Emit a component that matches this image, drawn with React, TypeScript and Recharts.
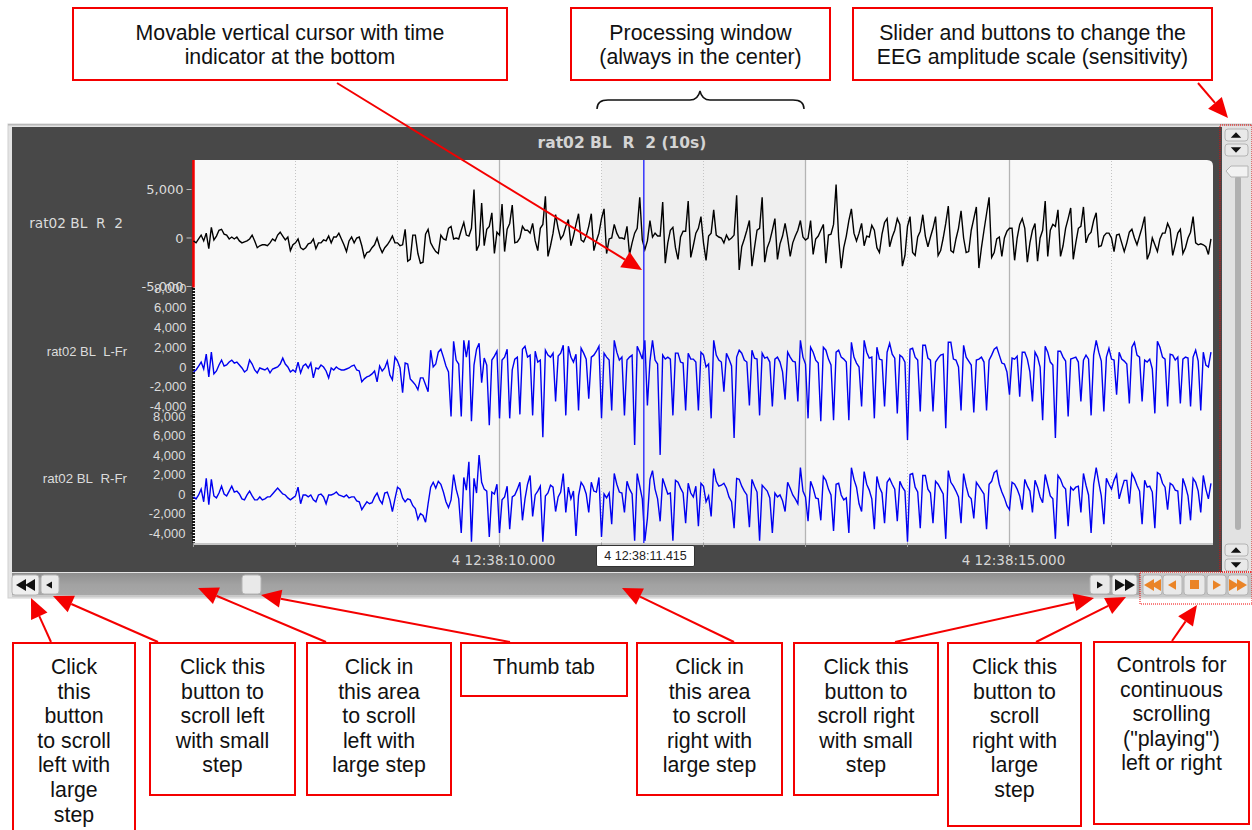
import React from 'react';
import { ComposedChart, Line, XAxis, YAxis, ReferenceArea, ReferenceLine } from 'recharts';

// one sample every 25 ms, starting at second 7 of the minute shown
const START_SECOND = 7;
const SAMPLE_STEP = 0.025;

const topTrace = [
  -300,-500,-100,300,-300,500,-1100,1100,-200,200,800,900,400,300,-100,100,-100,100,-300,-500,
  -400,-300,-100,300,-300,-1000,-800,-700,-700,-800,-500,-100,-300,300,600,200,-200,100,-1300,-700,
  -500,-100,-1000,-1200,-1000,-600,-500,-100,-1100,-500,-500,-200,-300,200,-500,100,100,500,-100,-700,
  -1400,-300,100,-500,0,100,-800,-2000,-1500,-1400,-1000,-700,0,-900,-1500,-1000,-700,-300,200,-500,
  -500,-800,-700,900,-2400,-2200,300,300,-1600,-2600,-2500,400,900,-500,-1000,-1400,-1600,300,-100,-200,
  1000,1200,-100,0,-100,800,1600,300,200,1000,5000,-1300,-700,3600,-800,900,1200,2600,-1600,600,
  300,3500,-1400,900,1500,3400,-500,-400,0,1200,800,800,500,1500,-300,-1300,1000,1400,4300,-1900,
  -800,500,2400,1000,-100,300,1200,1900,-800,200,1400,2500,-200,-400,200,1200,2500,-1300,-300,500,
  2000,3000,-1600,-100,0,1400,500,0,0,-100,1200,-1700,-500,500,1000,4200,-200,-1200,-300,1800,
  100,500,200,200,3700,-2600,-500,800,1100,-1000,-2200,100,700,700,3800,-2000,-800,500,1000,2200,
  -500,-2300,200,500,2900,300,100,0,-500,300,-200,0,300,4400,-3300,-900,-100,800,1800,-2900,
  -1000,800,1000,4200,-2500,-1000,-300,800,2000,-2200,-600,200,1500,0,-1900,-500,200,800,1800,100,
  -200,0,1800,-1700,-100,200,800,1400,-2600,300,400,1400,5500,0,-3100,-1000,200,1800,3000,500,
  -300,500,1500,-800,200,100,1300,800,-1000,-1500,400,1600,2000,-900,100,800,2000,1400,-2900,-1800,
  1200,2200,-1500,-1800,100,700,2400,200,-900,100,1000,2200,-1800,-1300,0,1500,3300,-1300,-1500,-100,
  1000,2800,0,-1500,-1400,800,2000,3200,-3100,-1000,800,2500,4200,-2000,-1500,-100,100,-1900,0,700,
  1000,1000,-2300,0,1400,2000,1000,-2500,-500,800,1500,-2400,0,800,3800,-1900,800,1400,1200,2900,
  -1900,-800,1000,2000,3100,-2200,-500,1000,1200,3200,-500,300,600,1800,2600,-900,-800,200,500,500,
  0,-1400,300,400,-500,-1400,-500,600,900,0,-700,200,1100,2200,-2200,-1500,0,-700,-1400,-100,
  500,500,1500,900,-1800,-700,500,900,-1600,-1000,0,600,2200,-500,-700,-600,-700,-900,-1700,-100,
];

const leftFrontalTrace = [
  -500,-300,100,500,-200,1300,-1000,1500,-700,-400,200,700,100,200,500,700,400,500,200,-100,
  -500,-300,700,300,-300,-600,-100,-200,-300,-100,-600,-200,-100,0,300,900,300,0,-500,-300,
  -500,500,-600,100,300,-100,400,-1100,-100,-200,200,0,-400,-1100,-100,-300,0,-200,-300,-300,
  -200,-100,100,200,-300,-400,-1500,-1200,-1000,-900,-700,-400,-1500,100,-400,-100,600,-800,-1300,1000,
  600,-100,-2600,400,300,-1200,-1500,-1800,-2300,-1100,-1100,-1800,-2500,1700,0,300,1500,1800,1000,100,
  -500,-5000,2600,700,300,-5000,2700,1000,2700,-5500,200,1800,2400,-1600,900,200,-5900,700,1100,1600,
  -5200,700,1000,1800,-5200,-300,800,1000,-4800,1800,2100,1000,1200,-4900,1600,500,700,-7100,1700,1200,
  1000,1400,-3500,1100,1400,2200,-4900,2100,1000,500,1300,-4400,1900,1400,800,-3200,1000,1200,1600,2100,
  -5200,1400,1000,700,-4400,2700,1500,700,1000,-4900,700,1000,1200,-7900,2100,1500,800,2700,-3900,600,
  2700,700,300,-8900,1200,800,1000,800,-4900,1400,1400,500,400,-4400,1400,800,800,500,-4400,1500,
  1200,0,300,-5200,2700,1200,700,500,-2500,1400,800,100,-7200,1000,1700,1400,700,500,-3900,1700,
  900,800,-4900,1400,900,1000,500,-4000,800,1000,500,-500,-3300,1500,1000,600,500,-3500,2700,1000,
  300,-5200,2000,1500,700,400,-5500,2000,1700,800,200,-5400,1500,1700,1000,800,500,-5400,2500,1000,
  400,0,-4000,2700,1500,900,1000,-5200,2000,800,700,-4000,1500,2400,1300,900,-4700,1200,1000,500,
  -7400,1800,1900,1000,700,-4500,2200,2200,900,700,-4500,500,900,1200,1300,-6200,2500,2500,800,700,
  0,-4400,2200,1000,600,200,-4600,700,800,1000,500,-4400,700,1200,1800,2000,1200,400,300,-500,
  -2800,900,800,1100,-3000,1500,1500,800,-500,-3500,1500,1000,0,-5400,2100,1500,500,200,-7200,1600,
  1600,1000,600,-5000,800,900,1000,500,-3500,700,1200,800,-4900,1200,2700,1500,600,-4500,1000,1900,
  800,700,-2800,1500,800,600,300,-3700,2000,2500,1200,1000,-3500,700,500,800,-200,-4700,2600,2000,
  1000,800,-4000,1300,1200,700,1000,-3700,800,1000,900,-4000,1000,1700,600,-4400,1500,200,0,1500,
];

const rightFrontalTrace = [
  -300,-500,-100,500,-800,1600,-1100,1500,-200,-400,100,800,0,-200,300,800,200,300,0,-500,
  -600,-100,300,-200,-600,-600,-300,-600,-500,-300,-300,0,300,600,300,0,-100,-400,-600,-400,
  -200,700,-1000,-100,-100,-300,-100,-600,-800,-100,0,-300,-1000,-100,-100,0,200,-100,-200,-300,
  -100,-400,-300,-300,-700,-800,-1600,-1200,-800,-1000,-900,-300,100,-600,-1000,100,200,-600,-1800,-500,
  700,500,-400,-800,-500,-600,-1200,-1500,-2600,-2000,-2200,-2900,-1000,700,1200,600,1300,1000,200,-800,
  -1400,-600,2000,500,-500,-4000,1700,400,3300,-4900,1600,100,4000,1200,500,300,-4400,200,0,1000,
  -4000,-600,-300,800,-3600,-300,-100,500,1200,-2700,-500,1000,1900,-2300,-100,300,800,-4900,-200,100,
  900,700,-1800,-300,200,2100,-1900,700,-500,300,-4300,-200,1200,800,0,-1900,1200,300,200,1700,
  -4400,0,-400,100,-3100,2100,1000,200,100,-1900,1300,500,0,-4800,2100,800,-500,-4800,-2500,1500,
  2400,500,-500,-2800,1600,800,0,100,-4800,1400,1200,600,100,-3000,1100,100,-300,800,-3300,1100,
  800,-800,-200,-2300,2600,1300,800,900,1100,600,-300,-800,-3500,1600,1500,800,300,-100,-3400,1500,
  800,200,-4800,900,600,300,-400,-4000,100,-300,-100,-700,-1800,1200,600,-100,-500,-1000,2700,300,
  -300,-2800,1300,600,-400,-500,-2700,1800,1400,500,-100,-3800,1000,1100,-100,-600,-400,-4000,2700,1500,
  700,-1000,-1800,2300,1000,400,-500,-3600,1800,700,100,-3000,1200,1600,1000,500,-2800,1300,700,300,
  -4900,2000,2100,700,200,-3500,1900,1900,500,100,-3000,1300,1000,500,0,-4600,2400,1200,800,300,
  -300,-3000,2100,800,-200,-500,-2500,1200,800,400,0,-3600,1000,1300,2200,2400,1000,200,-400,-1200,
  -1600,1200,1000,500,-200,-1600,1500,800,300,-1900,1400,700,-300,-900,2000,900,-200,-500,-4600,1900,
  1500,800,500,-3300,700,400,700,800,-1900,2100,900,-100,-4000,1000,2700,1200,-200,-3100,1600,1000,
  500,1400,2000,-500,500,1400,1400,-1000,2100,1600,900,300,-3100,1400,700,800,200,-3500,2200,2000,
  1100,700,-1600,1100,900,400,300,-3100,1600,800,-200,-2700,1600,1200,300,-1900,1900,500,-500,1100,
];

const topTicks = [-5000, 0, 5000];
const frontalTicks = [-4000, -2000, 0, 2000, 4000, 6000, 8000];
const secondTicks = [7, 8, 9, 10, 11, 12, 13, 14, 15, 16];
const dottedSeconds = [8, 9, 11, 12, 14, 16];
const solidSeconds = [10, 13, 15];
const labelledSeconds: Record<number, string> = { 10: '4 12:38:10.000', 15: '4 12:38:15.000' };
const CURSOR_SECOND = 11.415;
const CURSOR_LABEL = '4 12:38:11.415';

const chartData = topTrace.map((top, i) => ({
  t: START_SECOND + i * SAMPLE_STEP,
  top,
  left: leftFrontalTrace[i],
  right: rightFrontalTrace[i],
}));

const SANS = 'Liberation Sans, Arial, sans-serif';
const DEJAVU = 'DejaVu Sans, Verdana, sans-serif';
const RED = '#f40000';

function Callout({ x, y, w, h, lines, first, lineGap = 24.6 }: any) {
  return (
    <g>
      <rect x={x} y={y} width={w} height={h} fill="#fff" stroke={RED} strokeWidth={2} />
      {lines.map((line: string, i: number) => (
        <text key={i} x={x + w / 2} y={first + i * lineGap} textAnchor="middle" fontFamily={SANS} fontSize={21.3} fill="#111">
          {line}
        </text>
      ))}
    </g>
  );
}

function Arrow({ x1, y1, x2, y2 }: any) {
  const len = Math.hypot(x2 - x1, y2 - y1);
  const ux = (x2 - x1) / len;
  const uy = (y2 - y1) / len;
  const bx = x2 - ux * 20;
  const by = y2 - uy * 20;
  const head = `${x2},${y2} ${bx - uy * 9},${by + ux * 9} ${bx + uy * 9},${by - ux * 9}`;
  return (
    <g>
      <line x1={x1} y1={y1} x2={bx} y2={by} stroke={RED} strokeWidth={2} />
      <polygon points={head} fill={RED} />
    </g>
  );
}

function Btn({ x, y, w, h, fill = '#e9e9e9' }: any) {
  return <rect x={x} y={y} width={w} height={h} rx={3} fill={fill} stroke="#b4b4b4" />;
}

function Tri({ x, y, dir, size = 5, color = '#111' }: any) {
  const pts =
    dir === 'left' ? `${x - size},${y} ${x + size},${y - size * 1.2} ${x + size},${y + size * 1.2}`
    : dir === 'right' ? `${x + size},${y} ${x - size},${y - size * 1.2} ${x - size},${y + size * 1.2}`
    : dir === 'up' ? `${x},${y - size * 0.7} ${x - size * 1.3},${y + size * 0.7} ${x + size * 1.3},${y + size * 0.7}`
    : `${x},${y + size * 0.7} ${x - size * 1.3},${y - size * 0.7} ${x + size * 1.3},${y - size * 0.7}`;
  return <polygon points={pts} fill={color} />;
}

function Chrome() {
  return (
    <svg width={1252} height={830} style={{ position: 'absolute', left: 0, top: 0 }}>
      <defs>
        <linearGradient id="bar" x1="0" y1="0" x2="0" y2="1">
          <stop offset="0" stopColor="#8e8e8e" />
          <stop offset="0.5" stopColor="#a2a2a2" />
          <stop offset="1" stopColor="#a8a8a8" />
        </linearGradient>
      </defs>
      <rect x={8} y={124} width={1244} height={474} fill="#e4e4e4" stroke="#d0d0d0" />
      <rect x={8} y={124} width={1244} height={1.5} fill="#b8b8b8" />
      <rect x={12} y={127} width={1210} height={445} fill="#484848" />
      <rect x={12} y={573} width={1128} height={23} fill="url(#bar)" />
      <rect x={1140} y={573} width={112} height={23} fill="#c4c4c4" />
      <rect x={12} y={595} width={1240} height={2} fill="#c9c9c9" />
      <path d="M193 160 H1207 Q1213 160 1213 166 V543 H193 Z" fill="#f8f8f8" />
      <rect x={193} y={543} width={1020} height={2} fill="#c6c6c6" />
      <text x={622} y={148} textAnchor="middle" fontFamily={DEJAVU} fontWeight="bold" fontSize={15.5} fill="#d4d4d4">
        {'rat02 BL\u00a0 R\u00a0 2 (10s)'}
      </text>
      <text x={123} y={228} textAnchor="end" fontFamily={DEJAVU} fontSize={13.7} fill="#dcdcdc">{'rat02 BL\u00a0 R\u00a0 2'}</text>
      <text x={127} y={356} textAnchor="end" fontFamily={SANS} fontSize={13} fill="#dcdcdc">{'rat02 BL\u00a0 L-Fr'}</text>
      <text x={127} y={483} textAnchor="end" fontFamily={SANS} fontSize={13.3} fill="#dcdcdc">{'rat02 BL\u00a0 R-Fr'}</text>

      <rect x={1222} y={127} width={29} height={445} fill="#e2e2e2" />
      <Btn x={1225} y={129} w={23} h={12} /><Tri x={1236} y={135} dir="up" size={4} />
      <Btn x={1225} y={144} w={23} h={12} /><Tri x={1236} y={150} dir="down" size={4} />
      <rect x={1235} y={176} width={6} height={354} rx={3} fill="#b0b0b0" />
      <path d="M1226 171 L1231 166 H1248 V177 H1231 Z" fill="#f2f2f2" stroke="#b4b4b4" />
      <Btn x={1225} y={544} w={23} h={12} /><Tri x={1236} y={550} dir="up" size={4} />
      <Btn x={1225} y={559} w={23} h={12} /><Tri x={1236} y={565} dir="down" size={4} />

      <Btn x={12} y={575} w={27} h={20} fill="#efefef" />
      <Tri x={21} y={585} dir="left" size={5} /><Tri x={30} y={585} dir="left" size={5} />
      <Btn x={41} y={575} w={18} h={19} /><Tri x={49} y={585} dir="left" size={3} />
      <Btn x={242} y={575} w={19} h={19} />
      <Btn x={1090} y={575} w={20} h={19} /><Tri x={1100} y={585} dir="right" size={3} />
      <Btn x={1112} y={575} w={25} h={20} fill="#efefef" />
      <Tri x={1120} y={585} dir="right" size={5} /><Tri x={1130} y={585} dir="right" size={5} />

      <Btn x={1143} y={575} w={19} h={20} />
      <Tri x={1149} y={585} dir="left" size={5} color="#ea8427" /><Tri x={1156} y={585} dir="left" size={5} color="#ea8427" />
      <Btn x={1163} y={575} w={19} h={20} /><Tri x={1172} y={585} dir="left" size={4} color="#ea8427" />
      <Btn x={1184} y={575} w={21} h={20} /><rect x={1190} y={580} width={9} height={9} fill="#ea8427" />
      <Btn x={1207} y={575} w={19} h={20} /><Tri x={1217} y={585} dir="right" size={4} color="#ea8427" />
      <Btn x={1228} y={575} w={20} h={20} />
      <Tri x={1234} y={585} dir="right" size={5} color="#ea8427" /><Tri x={1242} y={585} dir="right" size={5} color="#ea8427" />
    </svg>
  );
}

function Annotations() {
  return (
    <svg width={1252} height={830} style={{ position: 'absolute', left: 0, top: 0 }}>
      <rect x={1220} y={125} width={32} height={447} fill="none" stroke={RED} strokeDasharray="1 1" />
      <rect x={1140} y={572} width={112} height={32} fill="none" stroke={RED} strokeDasharray="1 1" />
      <path d="M597 109 Q597 100 608 100 H690 Q698 100 700 91 Q702 100 710 100 H793 Q804 100 804 109" fill="none" stroke="#111" strokeWidth={1.5} />

      <Arrow x1={337} y1={83} x2={642} y2={270} />
      <Arrow x1={1198} y1={83} x2={1228} y2={118} />
      <Arrow x1={51} y1={642} x2={31} y2={598} />
      <Arrow x1={158} y1={642} x2={53} y2={596} />
      <Arrow x1={326} y1={642} x2={198} y2={588} />
      <Arrow x1={510} y1={642} x2={261} y2={595} />
      <Arrow x1={734} y1={642} x2={622} y2={588} />
      <Arrow x1={895} y1={642} x2={1094} y2={598} />
      <Arrow x1={1036} y1={642} x2={1126} y2={597} />
      <Arrow x1={1172} y1={641} x2={1197} y2={605} />

      <Callout x={73} y={8} w={434} h={72} first={39.5} lineGap={24} lines={['Movable vertical cursor with time', 'indicator at the bottom']} />
      <Callout x={571} y={8} w={259} h={72} first={39.5} lineGap={24} lines={['Processing window', '(always in the center)']} />
      <Callout x={853} y={8} w={359} h={72} first={39.5} lineGap={24} lines={['Slider and buttons to change the', 'EEG amplitude scale (sensitivity)']} />

      <Callout x={13} y={643} w={122} h={200} first={674} lines={['Click', 'this', 'button', 'to scroll', 'left with', 'large', 'step']} />
      <Callout x={150} y={643} w={145} h={152} first={674} lines={['Click this', 'button to', 'scroll left', 'with small', 'step']} />
      <Callout x={307} y={643} w={144} h={152} first={674} lines={['Click in', 'this area', 'to scroll', 'left with', 'large step']} />
      <Callout x={461} y={643} w={166} h={53} first={674} lines={['Thumb tab']} />
      <Callout x={637} y={643} w={145} h={152} first={674} lines={['Click in', 'this area', 'to scroll', 'right with', 'large step']} />
      <Callout x={794} y={643} w={144} h={152} first={674} lines={['Click this', 'button to', 'scroll right', 'with small', 'step']} />
      <Callout x={948} y={643} w={133} h={183} first={674} lines={['Click this', 'button to', 'scroll', 'right with', 'large', 'step']} />
      <Callout x={1094} y={642} w={155} h={182} first={672} lines={['Controls for', 'continuous', 'scrolling', '("playing")', 'left or right']} />
    </svg>
  );
}

export default function App() {
  const tickStyle = { fill: '#dcdcdc', fontFamily: SANS, fontSize: 13 };
  return (
    <div style={{ position: 'absolute', left: 0, top: 0, width: 1252, height: 830, background: '#fff', overflow: 'hidden' }}>
      <Chrome />
      <div style={{ position: 'absolute', left: 0, top: 0 }}>
        <ComposedChart
          width={1252}
          height={830}
          data={chartData}
          margin={{ top: 160, right: 38.5, bottom: 257, left: 190.5 }}
        >
          <XAxis
            dataKey="t"
            type="number"
            domain={[7, 17]}
            ticks={secondTicks}
            interval={0}
            height={30}
            tickSize={4}
            tickMargin={8}
            axisLine={false}
            tickLine={{ stroke: '#9a9a9a' }}
            tick={{ fill: '#d6d6d6', fontFamily: DEJAVU, fontSize: 13.5, dx: 4 }}
            tickFormatter={(s: number) => labelledSeconds[s] ?? ''}
          />
          <YAxis
            yAxisId="top"
            width={1}
            domain={[-31443, 8041]}
            ticks={topTicks}
            interval={0}
            axisLine={false}
            tickSize={5}
            tickMargin={3}
            tickLine={{ stroke: '#bdbdbd' }}
            tick={{ fill: '#dcdcdc', fontFamily: DEJAVU, fontSize: 13 }}
            tickFormatter={(v: number) => v.toLocaleString('en-US')}
          />
          <YAxis
            yAxisId="left"
            width={1}
            domain={[-17823, 20962]}
            ticks={frontalTicks}
            interval={0}
            axisLine={false}
            tickSize={2}
            tickMargin={5}
            tickLine={{ stroke: '#111' }}
            tick={tickStyle}
            tickFormatter={(v: number) => v.toLocaleString('en-US')}
          />
          <YAxis
            yAxisId="right"
            width={1}
            domain={[-5026, 34256]}
            ticks={frontalTicks}
            interval={0}
            axisLine={false}
            tickSize={2}
            tickMargin={5}
            tickLine={{ stroke: '#111' }}
            tick={tickStyle}
            tickFormatter={(v: number) => v.toLocaleString('en-US')}
          />

          <ReferenceArea yAxisId="top" x1={11} x2={13} fill="#efefef" fillOpacity={1} stroke="none" />
          {dottedSeconds.map(s => (
            <ReferenceLine key={s} yAxisId="top" x={s} stroke="#c4c4c4" strokeDasharray="1 2" />
          ))}
          {solidSeconds.map(s => (
            <ReferenceLine key={s} yAxisId="top" x={s} stroke="#b4b4b4" strokeWidth={1.3} />
          ))}

          <ReferenceLine yAxisId="top" stroke="#f40000" strokeWidth={2.5} segment={[{ x: 7, y: 8041 }, { x: 7, y: -5100 }]} />
          <ReferenceLine yAxisId="left" stroke="#151515" strokeWidth={3} segment={[{ x: 7, y: 8000 }, { x: 7, y: -4900 }]} strokeDasharray="2 1" />
          <ReferenceLine yAxisId="right" stroke="#151515" strokeWidth={3} segment={[{ x: 7, y: 8000 }, { x: 7, y: -5000 }]} strokeDasharray="2 1" />

          <Line yAxisId="top" dataKey="top" stroke="#000" strokeWidth={1.4} dot={false} isAnimationActive={false} />
          <Line yAxisId="left" dataKey="left" stroke="#0000f0" strokeWidth={1.4} dot={false} isAnimationActive={false} />
          <Line yAxisId="right" dataKey="right" stroke="#0000f0" strokeWidth={1.4} dot={false} isAnimationActive={false} />

          <ReferenceLine yAxisId="top" x={CURSOR_SECOND} stroke="#1a1aff" strokeWidth={1.3} />
        </ComposedChart>
      </div>
      <div
        style={{
          position: 'absolute', left: 596, top: 545, width: 97, height: 20, background: '#fff',
          border: '1px solid #333', borderRadius: 2, font: `12.5px ${SANS}`, color: '#222',
          textAlign: 'center', lineHeight: '20px',
        }}
      >
        {CURSOR_LABEL}
      </div>
      <Annotations />
    </div>
  );
}
